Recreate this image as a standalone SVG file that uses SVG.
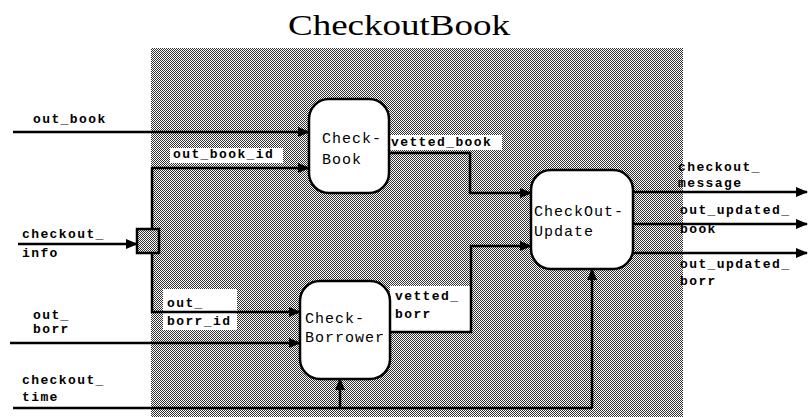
<svg xmlns="http://www.w3.org/2000/svg" width="808" height="417" viewBox="0 0 808 417">
<style>
.node{fill:#fff;stroke:#000;stroke-width:2.5}
.nt{font-family:"Liberation Mono",monospace;font-size:15px;letter-spacing:1px;fill:#000}
.lt{font-family:"Liberation Mono",monospace;font-size:13px;font-weight:bold;letter-spacing:1.4px;fill:#000}
.ln{fill:none;stroke:#000;stroke-width:2.5}
.lbox{fill:#fff;stroke:none}
</style>
<defs>
<pattern id="dither" width="2" height="2" patternUnits="userSpaceOnUse">
<rect width="2" height="2" fill="#fff"/>
<rect width="1" height="1" fill="#333"/>
<rect x="1" y="1" width="1" height="1" fill="#333"/>
</pattern>
<marker id="arr" viewBox="0 0 12 10" refX="11" refY="5" markerWidth="12" markerHeight="10" markerUnits="userSpaceOnUse" orient="auto">
<path d="M0,0 L12,5 L0,10 Z" fill="#000"/>
</marker>
</defs>
<rect width="808" height="417" fill="#fff"/>
<text x="288" y="35" font-family="'Liberation Serif',serif" font-size="30" textLength="222" lengthAdjust="spacingAndGlyphs">CheckoutBook</text>
<rect id="background" x="151" y="48" width="532" height="369" fill="url(#dither)"/>
<rect x="137" y="169" width="14" height="143" fill="#fff"/>

<g id="label-boxes">
<rect class="lbox" x="170" y="148" width="113" height="15"/>
<rect class="lbox" x="389" y="135" width="113" height="15"/>
<rect class="lbox" x="163" y="289" width="74" height="41"/>
<rect class="lbox" x="390" y="286" width="80" height="46"/>
</g>

<g id="connectors">
<line class="ln" x1="13" y1="132" x2="309" y2="132" marker-end="url(#arr)"/>
<polyline class="ln" points="152,229 152,168 309,168" marker-end="url(#arr)"/>
<line class="ln" x1="18" y1="244" x2="137" y2="244" marker-end="url(#arr)"/>
<polyline class="ln" points="152,253 152,312 300,312" marker-end="url(#arr)"/>
<line class="ln" x1="10" y1="343" x2="300" y2="343" marker-end="url(#arr)"/>
<line class="ln" x1="13" y1="408" x2="592" y2="408"/>
<line class="ln" x1="340" y1="408" x2="340" y2="379" marker-end="url(#arr)"/>
<line class="ln" x1="592" y1="408" x2="592" y2="269" marker-end="url(#arr)"/>
<polyline class="ln" points="389,153 470,153 470,193 531,193" marker-end="url(#arr)"/>
<polyline class="ln" points="390,332 471,332 471,246 531,246" marker-end="url(#arr)"/>
<line class="ln" x1="633" y1="192" x2="807" y2="192" marker-end="url(#arr)"/>
<line class="ln" x1="633" y1="224" x2="807" y2="224" marker-end="url(#arr)"/>
<line class="ln" x1="633" y1="253" x2="807" y2="253" marker-end="url(#arr)"/>
</g>

<g id="junction">
<rect x="137" y="229" width="22" height="24" fill="url(#dither)" stroke="#000" stroke-width="2.5"/>
</g>

<g id="CheckBook">
<rect class="node" x="309" y="99" width="80" height="94" rx="20"/>
<text class="nt" x="322" y="143">Check-</text>
<text class="nt" x="322" y="164">Book</text>
</g>

<g id="CheckBorrower">
<rect class="node" x="300" y="281" width="90" height="98" rx="20"/>
<text class="nt" x="305" y="323">Check-</text>
<text class="nt" x="305" y="342">Borrower</text>
</g>

<g id="CheckOutUpdate">
<rect class="node" x="531" y="170" width="102" height="99" rx="20"/>
<text class="nt" x="534" y="216">CheckOut-</text>
<text class="nt" x="534" y="236">Update</text>
</g>

<g id="labels">
<text class="lt" x="33" y="123">out_book</text>
<text class="lt" x="173" y="158">out_book_id</text>
<text class="lt" x="22" y="238">checkout_</text>
<text class="lt" x="22" y="257">info</text>
<text class="lt" x="391" y="146">vetted_book</text>
<text class="lt" x="167" y="307">out_</text>
<text class="lt" x="167" y="325">borr_id</text>
<text class="lt" x="33" y="319">out_</text>
<text class="lt" x="33" y="333">borr</text>
<text class="lt" x="22" y="384">checkout_</text>
<text class="lt" x="22" y="401">time</text>
<text class="lt" x="395" y="300">vetted_</text>
<text class="lt" x="395" y="318">borr</text>
<text class="lt" x="678" y="171">checkout_</text>
<text class="lt" x="678" y="187">message</text>
<text class="lt" x="680" y="214">out_updated_</text>
<text class="lt" x="680" y="233">book</text>
<text class="lt" x="680" y="268">out_updated_</text>
<text class="lt" x="680" y="285">borr</text>
</g>
</svg>
